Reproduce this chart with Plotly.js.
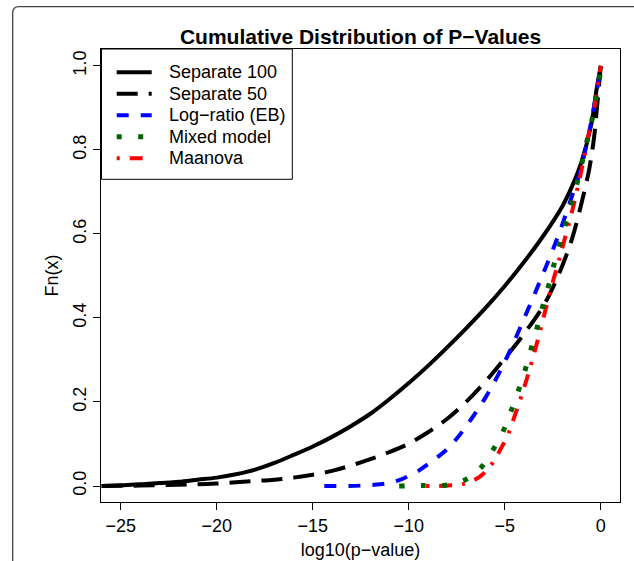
<!DOCTYPE html>
<html>
<head>
<meta charset="utf-8">
<script src="https://cdn.plot.ly/plotly-3.0.1.min.js"></script>
<style>html,body{margin:0;padding:0;background:#fff;}#chart{width:634px;height:561px;}</style>
</head>
<body>
<div id="chart"></div>
<script>
// ---- data ----
const seriesNames = ["Separate 100", "Separate 50", "Log\u2212ratio (EB)", "Mixed model", "Maanova"];

const sep100X = [-26.0, -25, -24, -23, -22, -21, -20, -19, -18, -17, -16, -15, -14, -13, -12, -11, -10, -9, -8, -7, -6, -5, -4, -3, -2, -1.5, -1, -0.5, -0.2, 0];
const sep100Y = [0, 0.002, 0.004, 0.007, 0.010, 0.015, 0.020, 0.028, 0.039, 0.055, 0.074, 0.094, 0.117, 0.143, 0.172, 0.207, 0.245, 0.286, 0.330, 0.376, 0.424, 0.476, 0.533, 0.595, 0.666, 0.713, 0.772, 0.860, 0.950, 1.0];

const sep50X = [-26.0, -24, -22, -21, -20, -19, -18, -17, -16, -15, -14, -13, -12, -11, -10, -9, -8, -7, -6, -5, -4, -3, -2.5, -2, -1.5, -1, -0.6, -0.35, -0.2, 0];
const sep50Y = [0, 0.001, 0.003, 0.004, 0.006, 0.009, 0.012, 0.015, 0.020, 0.027, 0.036, 0.049, 0.064, 0.081, 0.101, 0.128, 0.160, 0.201, 0.249, 0.304, 0.362, 0.428, 0.472, 0.525, 0.588, 0.674, 0.755, 0.830, 0.900, 1.0];

const logRatioX = [-14.4, -12.5, -11.5, -11.0, -10.5, -10.0, -9.5, -9.0, -8.5, -8.0, -7.5, -7.0, -6.5, -6.0, -5.5, -5.0, -4.5, -4.0, -3.5, -3.0, -2.5, -2.0, -1.5, -1.1, -0.8, -0.55, -0.2, 0];
const logRatioY = [0, 0.001, 0.004, 0.008, 0.014, 0.024, 0.036, 0.052, 0.069, 0.088, 0.113, 0.143, 0.176, 0.211, 0.251, 0.296, 0.345, 0.398, 0.451, 0.506, 0.562, 0.623, 0.690, 0.745, 0.800, 0.855, 0.943, 1.0];

const mixedX = [-10.5, -9.3, -8.1, -7.0, -6.2, -5.6, -5.07, -4.67, -4.29, -3.94, -3.63, -3.33, -3.04, -2.73, -2.45, -2.14, -1.82, -1.51, -1.21, -0.95, -0.70, -0.44, -0.24, -0.04, 0];
const mixedY = [0, 0.001, 0.002, 0.016, 0.046, 0.087, 0.132, 0.179, 0.227, 0.276, 0.326, 0.375, 0.425, 0.475, 0.525, 0.575, 0.625, 0.675, 0.725, 0.775, 0.825, 0.875, 0.927, 0.979, 1.0];

const maanovaX = [-9.1, -8.0, -7.15, -6.45, -6.1, -5.68, -5.24, -4.81, -4.5, -4.2, -3.92, -3.66, -3.41, -3.17, -2.95, -2.72, -2.48, -2.22, -1.95, -1.5, -1.07, -0.73, -0.3, 0];
const maanovaY = [0, 0.001, 0.005, 0.018, 0.030, 0.052, 0.086, 0.125, 0.165, 0.205, 0.245, 0.285, 0.326, 0.367, 0.407, 0.447, 0.489, 0.530, 0.576, 0.653, 0.738, 0.816, 0.911, 1.0];

const xTicks = [-25, -20, -15, -10, -5, 0];
const yTicks = [0, 0.2, 0.4, 0.6, 0.8, 1.0];

// ---- styles ----
const styles = [
  {color: "#000000", width: 4, dash: "solid"},
  {color: "#000000", width: 4, dash: "21px,11px"},
  {color: "#0000FF", width: 4, dash: "12px,12px"},
  {color: "#006400", width: 5, dash: "5px,16.5px"},
  {color: "#FF0000", width: 4, dash: "3px,10px,13px,10px"}
];

// ---- figure ----
const W = 634, H = 561;
const M = {l: 101, r: 14, t: 49, b: 59};
const pw = W - M.l - M.r, ph = H - M.t - M.b;
const px = v => (v - M.l) / pw;
const py = v => (H - M.b - v) / ph;

const font = "Liberation Sans, Arial, Helvetica, sans-serif";

function tr(x, y, i) {
  const s = styles[i];
  return {x: x, y: y, name: seriesNames[i], type: "scatter", mode: "lines",
          line: {color: s.color, width: s.width, dash: s.dash, shape: "spline", smoothing: 1},
          showlegend: false, hoverinfo: "skip"};
}

const data = [
  tr(sep100X, sep100Y, 0),
  tr(sep50X, sep50Y, 1),
  tr(logRatioX, logRatioY, 2),
  tr(maanovaX, maanovaY, 4),
  tr(mixedX, mixedY, 3)
];

const framePath = "M " + px(12.7) + " " + py(600) +
  " L " + px(12.7) + " " + py(13) +
  " Q " + px(12.7) + " " + py(6.7) + " " + px(19) + " " + py(6.7) +
  " L " + px(700) + " " + py(6.7);

const shapes = [
  {type: "path", xref: "paper", yref: "paper", path: framePath,
   line: {color: "#444444", width: 1.3}, layer: "above"},
  // legend box
  {type: "rect", xref: "paper", yref: "paper", x0: px(101.5), x1: px(292.3), y0: py(179.3), y1: py(49),
   line: {color: "#000000", width: 1}, fillcolor: "#ffffff", layer: "above"}
];
const annotations = [];
const rowY0 = 72.3, rowStep = 21.5;
seriesNames.forEach((name, i) => {
  const yy = py(rowY0 + i * rowStep);
  const s = styles[i];
  shapes.push({type: "line", xref: "paper", yref: "paper", x0: px(116.7), x1: px(151.7), y0: yy, y1: yy,
               line: {color: s.color, width: s.width, dash: s.dash}, layer: "above"});
  annotations.push({text: name, xref: "paper", yref: "paper", x: px(166.5), y: yy,
                    xanchor: "left", yanchor: "middle", showarrow: false,
                    font: {family: font, size: 18, color: "#000000"}});
});

const layout = {
  width: W, height: H,
  margin: M,
  paper_bgcolor: "#ffffff", plot_bgcolor: "#ffffff",
  font: {family: font, size: 18, color: "#000000"},
  title: {text: "<b>Cumulative Distribution of P\u2212Values</b>",
          font: {family: font, size: 21, color: "#000000"},
          x: 0.5, xref: "paper", y: 1 - 37 / H, yref: "container", yanchor: "middle"},
  showlegend: false,
  xaxis: {range: [-26.03, 1.0], tickvals: xTicks, ticktext: xTicks.map(v => v < 0 ? "\u2212" + Math.abs(v) : String(v)),
          ticks: "outside", ticklen: 7, tickwidth: 1, tickcolor: "#000",
          showline: true, mirror: true, linecolor: "#000", linewidth: 1,
          showgrid: false, zeroline: false, tickfont: {size: 18},
          title: {text: "log10(p\u2212value)", font: {size: 18}, standoff: 8}},
  yaxis: {range: [-0.038, 1.040], tickvals: yTicks, tickformat: ".1f", tickangle: -90,
          ticks: "outside", ticklen: 7, tickwidth: 1, tickcolor: "#000",
          showline: true, mirror: true, linecolor: "#000", linewidth: 1,
          showgrid: false, zeroline: false, tickfont: {size: 18},
          title: {text: "Fn(x)", font: {size: 18}, standoff: 6}},
  shapes: shapes,
  annotations: annotations
};

Plotly.newPlot("chart", data, layout, {displayModeBar: false, staticPlot: true});
</script>
</body>
</html>
